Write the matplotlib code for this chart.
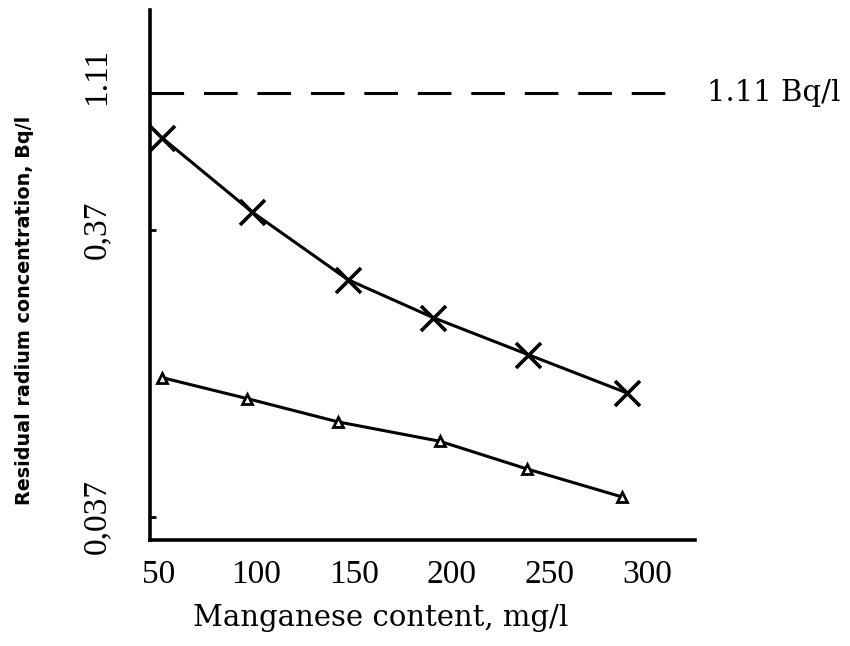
import matplotlib
matplotlib.use("Agg")
import matplotlib.pyplot as plt
import matplotlib.transforms as mtransforms
from matplotlib.ticker import FixedLocator, NullLocator, FixedFormatter

# Data
mn_upper = [52, 98, 147, 190.5, 239, 289.5]
ra_upper = [0.774, 0.427, 0.248, 0.183, 0.136, 0.100]

mn_lower = [52, 95.5, 142, 194, 238.5, 287]
ra_lower = [0.113, 0.0955, 0.0792, 0.0678, 0.0543, 0.0434]

limit_value = 1.11
limit_label = "1.11 Bq/l"

x_ticks = [50, 100, 150, 200, 250, 300]
x_ticklabels = ["50", "100", "150", "200", "250", "300"]
y_ticks = [0.037, 0.37, 1.11]
y_ticklabels = ["0,037", "0,37", "1.11"]

xlabel = "Manganese content, mg/l"
ylabel = "Residual radium concentration, Bq/l"

serif = ["Liberation Serif", "DejaVu Serif"]
wide_serif = ["DejaVu Serif"]

fig = plt.figure(figsize=(8.5, 6.46), dpi=100)
ax = fig.add_axes([150/850, 1-540/646, (695-150)/850, (540-10)/646])

ax.set_yscale("log")
ax.set_xlim(45.8, 324.4)
ax.set_ylim(0.0307, 2.16)

ax.plot(mn_upper, ra_upper, color="black", lw=2.2, marker="x", ms=18, mew=2.6)
ax.plot(mn_lower, ra_lower, color="black", lw=2.2, marker="^", ms=7,
        mfc="white", mec="black", mew=2.0)

ax.plot([45.8, 315.7], [limit_value, limit_value], color="black", lw=2.2,
        dashes=(11, 6.5))
ax.text(330.5, limit_value, limit_label, ha="left", va="center",
        fontsize=21, family=wide_serif, clip_on=False)

for s in ["top", "right"]:
    ax.spines[s].set_visible(False)
for s in ["left", "bottom"]:
    ax.spines[s].set_linewidth(2.6)

ax.xaxis.set_major_locator(FixedLocator(x_ticks))
ax.xaxis.set_major_formatter(FixedFormatter(x_ticklabels))
ax.yaxis.set_major_locator(FixedLocator(y_ticks))
ax.yaxis.set_major_formatter(FixedFormatter(y_ticklabels))
ax.yaxis.set_minor_locator(NullLocator())
ax.xaxis.set_minor_locator(NullLocator())

ax.tick_params(axis="x", length=0, pad=14)
ax.tick_params(axis="y", length=4, direction="in", width=2, pad=27)
for lab in ax.get_xticklabels():
    lab.set_fontsize(24)
    lab.set_family(serif)
for lab in ax.get_yticklabels():
    lab.set_fontsize(24)
    lab.set_family(serif)
    lab.set_rotation(90)
    lab.set_va("center")

# the "1.11" label sits a little above its level in the original
top_tick = ax.yaxis.get_major_ticks()[2]
top_tick.label1.set_transform(top_tick.label1.get_transform() +
                              mtransforms.ScaledTranslation(0, 0.17, fig.dpi_scale_trans))

fig.text(381/850, 1-618/646, xlabel, ha="center", va="center",
         fontsize=21, family=wide_serif)
fig.text(25/850, 1-310/646, ylabel, ha="center", va="center", rotation=90,
         fontsize=13.8, fontweight="bold", family=["DejaVu Sans"])

fig.savefig("out.png", dpi=100)
